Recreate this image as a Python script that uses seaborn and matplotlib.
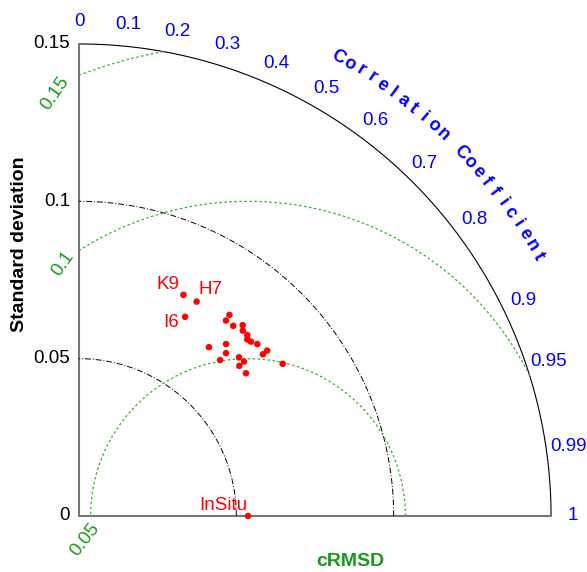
import numpy as np
import pandas as pd
import matplotlib
matplotlib.use("Agg")
import matplotlib.pyplot as plt
import seaborn as sns

sns.set_style("white")
plt.rcParams['font.family'] = ['Liberation Sans', 'DejaVu Sans']

# ---- data ----
names = ["K9", "H7", "I6"] + [""] * 20
std_dev = [0.0777, 0.0777, 0.0717, 0.0798, 0.0777, 0.0778, 0.0799, 0.0786, 0.0785,
           0.0775, 0.0778, 0.0787, 0.0719, 0.0677, 0.0796, 0.0778, 0.0697, 0.0716,
           0.0668, 0.0718, 0.0808, 0.0698, 0.0698]
corr = [0.427, 0.481, 0.470, 0.599, 0.601, 0.630, 0.651, 0.662, 0.681,
        0.690, 0.702, 0.720, 0.650, 0.610, 0.751, 0.751, 0.670, 0.710,
        0.671, 0.730, 0.801, 0.730, 0.760]
ref_std = 0.0537
ref_name = "InSitu"
std_ticks = [0, 0.05, 0.1, 0.15]
std_tick_labels = ["0", "0.05", "0.1", "0.15"]
corr_ticks = [0, 0.1, 0.2, 0.3, 0.4, 0.5, 0.6, 0.7, 0.8, 0.9, 0.95, 0.99, 1]
corr_tick_labels = ["0", "0.1", "0.2", "0.3", "0.4", "0.5", "0.6", "0.7", "0.8", "0.9", "0.95", "0.99", "1"]
crmsd_levels = [0.05, 0.1, 0.15]
crmsd_labels = ["0.05", "0.1", "0.15"]
rmax = 0.15

BLUE = "#0000ff"
GREEN = "#179a17"
LGREEN = "#33b033"
FS = 13.5

fig = plt.figure(figsize=(5.87, 5.72), dpi=100)
ax = fig.add_axes([0, 0, 1, 1])
S = 3147.0
XL = (-79 / S, (587 - 79) / S)
YL = (-56 / S, 516 / S)

# points (seaborn)
std_a = np.array(std_dev)
cor_a = np.array(corr)
df = pd.DataFrame({"x": std_a * cor_a, "y": std_a * np.sin(np.arccos(cor_a)), "name": names})
sns.scatterplot(data=df, x="x", y="y", color="red", s=22, edgecolor="none", ax=ax,
                legend=False, zorder=5)
ref_df = pd.DataFrame({"x": [ref_std], "y": [0.0]})
sns.scatterplot(data=ref_df, x="x", y="y", color="red", s=22, edgecolor="none", ax=ax,
                legend=False, clip_on=False, zorder=5)

# outer arc
th = np.linspace(0, np.pi / 2, 400)
ax.plot(rmax * np.cos(th), rmax * np.sin(th), color="black", lw=0.8)
# axes lines
ax.plot([0, 0], [0, rmax], color="#777777", lw=1.5)
ax.plot([0, rmax], [0, 0], color="#777777", lw=1.5)
# std arcs
for r in std_ticks[1:-1]:
    ax.plot(r * np.cos(th), r * np.sin(th), color="black", lw=0.7, ls=(0, (6, 2, 1, 2)))
# crmsd arcs
t2 = np.linspace(0, np.pi, 1000)
for lev in crmsd_levels:
    x = ref_std + lev * np.cos(t2)
    y = lev * np.sin(t2)
    m = (x >= 0) & (np.hypot(x, y) <= rmax + 1e-9)
    ax.plot(np.where(m, x, np.nan), np.where(m, y, np.nan), color=LGREEN, lw=0.9,
            ls=(0, (2, 2)))

# std tick labels
for v, lab in zip(std_ticks, std_tick_labels):
    ax.text(-9 / S, v, lab, ha="right", va="center", fontsize=FS, color="black")

# correlation tick labels
for c, lab in zip(corr_ticks, corr_tick_labels):
    a = np.arccos(c)
    rr = 0.157
    ax.text(rr * np.cos(a), rr * np.sin(a), lab, ha="center", va="center",
            fontsize=FS, color=BLUE)

# curved title
title = "Correlation Coefficient"
a0, a1 = np.deg2rad(60.5), np.deg2rad(29.5)
angs = np.linspace(a0, a1, len(title))
for ch, a in zip(title, angs):
    ax.text(0.1675 * np.cos(a), 0.1675 * np.sin(a), ch, ha="center", va="center",
            rotation=np.rad2deg(a) - 90, rotation_mode="anchor",
            fontsize=13, fontweight="bold", color=BLUE)

# crmsd labels
lab_pos = [((85 - 79) / S, (516 - 540) / S, 52),
           ((63 - 79) / S, (516 - 264) / S, 55),
           ((55 - 79) / S, (516 - 93) / S, 55)]
for lab, (x, y, rot) in zip(crmsd_labels, lab_pos):
    ax.text(x, y, lab, ha="center", va="center", rotation=rot, fontsize=FS, color=GREEN)

# axis titles
ax.text((20 - 79) / S, (516 - 244) / S, "Standard deviation", rotation=90, ha="center",
        va="center", fontsize=14, fontweight="bold", color="black")
ax.text((350 - 79) / S, (516 - 561) / S, "cRMSD", ha="center", va="center",
        fontsize=14, fontweight="bold", color=GREEN)

offsets = {"K9": (-4, 10, "right"), "H7": (2, 12.5, "left"), "I6": (-6, -6, "right")}
for _, row in df.iterrows():
    if row["name"] in offsets:
        dx, dy, ha = offsets[row["name"]]
        ax.text(row["x"] + dx / S, row["y"] + dy / S, row["name"], ha=ha, va="center",
                fontsize=FS, color="red")
ax.text(ref_std - 1 / S, 11 / S, ref_name, ha="right", va="center", fontsize=FS, color="red")

ax.set_xlim(*XL)
ax.set_ylim(*YL)
ax.axis("off")
fig.savefig("out.png", dpi=100)
